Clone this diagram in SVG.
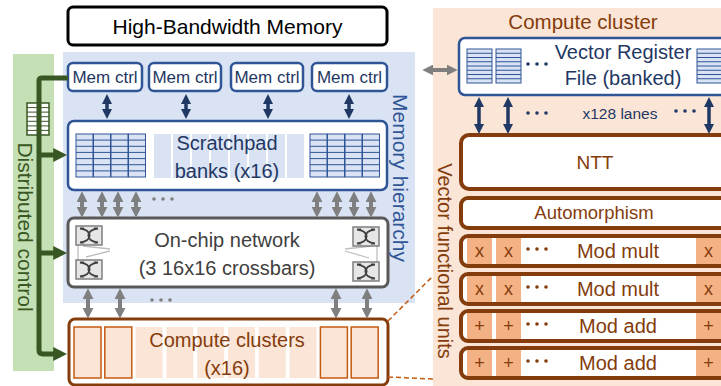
<svg xmlns="http://www.w3.org/2000/svg" xmlns:xlink="http://www.w3.org/1999/xlink" width="721" height="386" viewBox="0 0 721 386">
<style>
text{font-family:"Liberation Sans",Arial,sans-serif;}
.navy{fill:#1f3864;}
.brown{fill:#843c0c;}
.mc{fill:#fff;stroke:#2f5597;stroke-width:2.5;}
.fu{fill:#fff;stroke:#843c0c;stroke-width:4;}
.sq{fill:#f4b183;}
.arN{stroke:#1f3864;stroke-width:3.5;fill:none;}
.arG{stroke:#7f7f7f;stroke-width:4;fill:none;}
.grn{stroke:#385723;stroke-width:5;fill:none;}
</style>
<defs>
<marker id="mN" viewBox="0 0 10 10" refX="3" refY="5" markerWidth="10" markerHeight="10" markerUnits="userSpaceOnUse" orient="auto-start-reverse"><path d="M0,0 L10,5 L0,10 z" fill="#1f3864"/></marker>
<marker id="mG" viewBox="0 0 10 10" refX="3" refY="5" markerWidth="11" markerHeight="11" markerUnits="userSpaceOnUse" orient="auto-start-reverse"><path d="M0,0 L10,5 L0,10 z" fill="#7f7f7f"/></marker>
<marker id="mGr" viewBox="0 0 10 10" refX="2" refY="5" markerWidth="14" markerHeight="14" markerUnits="userSpaceOnUse" orient="auto"><path d="M0,0 L10,5 L0,10 z" fill="#385723"/></marker>
<g id="bank">
<rect x="0" y="0" width="17" height="43" fill="#dae3f3" stroke="#2f5597" stroke-width="1"/>
<path d="M0,6.1H17M0,12.3H17M0,18.4H17M0,24.6H17M0,30.7H17M0,36.9H17" stroke="#2f5597" stroke-width="1"/>
</g>
<g id="vrfbank">
<rect x="0" y="0" width="25" height="34" fill="#dae3f3" stroke="#2f5597" stroke-width="1"/>
<path d="M0,4.25H25M0,8.5H25M0,12.75H25M0,17H25M0,21.25H25M0,25.5H25M0,29.75H25" stroke="#2f5597" stroke-width="1"/>
</g>
<g id="xbar">
<rect x="0" y="0" width="26" height="19" fill="#e7e6e6" stroke="#7f7f7f" stroke-width="1.5"/>
<path d="M4,2.5 C16.7,4 16.7,15 4,16.5 M22,2.5 C9.3,4 9.3,15 22,16.5 M4,2.5H8M18,2.5H22M4,16.5H8M18,16.5H22" stroke="#404040" stroke-width="2" fill="none"/>
</g>
<g id="dots"><circle cx="0" cy="0" r="1.8"/><circle cx="9" cy="0" r="1.8"/><circle cx="18" cy="0" r="1.8"/></g>
</defs>

<rect x="63" y="52" width="352" height="251" fill="#dae3f3"/>
<rect x="13" y="54" width="41" height="317" fill="#c5e0b4"/>
<rect x="433" y="8" width="300" height="378" fill="#fbe5d6"/>

<g id="hbm">
<rect x="68" y="7" width="319" height="38" rx="5" fill="#fff" stroke="#000" stroke-width="3"/>
<text x="227.5" y="33.5" font-size="21" text-anchor="middle" fill="#000">High-Bandwidth Memory</text>
</g>

<g id="memctrl1"><rect class="mc" x="68" y="63" width="74" height="28" rx="5"/><text class="navy" x="105" y="83" font-size="17" text-anchor="middle">Mem ctrl</text></g>
<g id="memctrl2"><rect class="mc" x="149" y="63" width="72" height="28" rx="5"/><text class="navy" x="185" y="83" font-size="17" text-anchor="middle">Mem ctrl</text></g>
<g id="memctrl3"><rect class="mc" x="231" y="63" width="72" height="28" rx="5"/><text class="navy" x="267" y="83" font-size="17" text-anchor="middle">Mem ctrl</text></g>
<g id="memctrl4"><rect class="mc" x="312" y="63" width="75" height="28" rx="5"/><text class="navy" x="349.5" y="83" font-size="17" text-anchor="middle">Mem ctrl</text></g>

<g id="scratchpad">
<rect class="mc" x="68" y="121" width="319" height="69" rx="6"/>
<use xlink:href="#bank" x="76" y="134"/><use xlink:href="#bank" x="93.5" y="134"/><use xlink:href="#bank" x="111" y="134"/><use xlink:href="#bank" x="128.5" y="134"/>
<g fill="#dae3f3">
<rect x="154" y="134" width="17" height="44"/><rect x="173" y="134" width="17" height="44"/><rect x="192" y="134" width="17" height="44"/><rect x="211" y="134" width="17" height="44"/>
<rect x="230" y="134" width="17" height="44"/><rect x="249" y="134" width="17" height="44"/><rect x="268" y="134" width="17" height="44"/><rect x="287" y="134" width="17" height="44"/>
</g>
<use xlink:href="#bank" x="310" y="134"/><use xlink:href="#bank" x="327.5" y="134"/><use xlink:href="#bank" x="345" y="134"/><use xlink:href="#bank" x="362.5" y="134"/>
<text class="navy" x="227" y="150" font-size="20" text-anchor="middle">Scratchpad</text>
<text class="navy" x="227" y="178" font-size="20" text-anchor="middle">banks (x16)</text>
</g>

<g id="network">
<rect x="68" y="218" width="320" height="69" rx="6" fill="#fff" stroke="#595959" stroke-width="3"/>
<g stroke="#bfbfbf" stroke-width="1.3" fill="none">
<path d="M78,245V260M83,246L110,249M86,257L110,251"/>
<path d="M377,245V262M372,246L345,249M369,258L345,251"/>
</g>
<use xlink:href="#xbar" x="76" y="226"/><use xlink:href="#xbar" x="76" y="260"/>
<use xlink:href="#xbar" x="353" y="227"/><use xlink:href="#xbar" x="353" y="262"/>
<text x="227" y="247" font-size="20" text-anchor="middle" fill="#404040">On-chip network</text>
<text x="227" y="275" font-size="20" text-anchor="middle" fill="#404040">(3 16x16 crossbars)</text>
</g>

<g id="clusters">
<rect x="69" y="319" width="319" height="66" rx="6" fill="#fff" stroke="#843c0c" stroke-width="3"/>
<g fill="#fbe5d6" stroke="#c55a11" stroke-width="1.5">
<rect x="74" y="327" width="27" height="51"/><rect x="104.8" y="327" width="27" height="51"/>
<rect x="320.4" y="327" width="27" height="51"/><rect x="351.2" y="327" width="27" height="51"/>
</g>
<g fill="#fbe5d6">
<rect x="135.6" y="327" width="27" height="51"/><rect x="166.4" y="327" width="27" height="51"/><rect x="197.2" y="327" width="27" height="51"/>
<rect x="228" y="327" width="27" height="51"/><rect x="258.8" y="327" width="27" height="51"/><rect x="289.6" y="327" width="27" height="51"/>
</g>
<text class="brown" x="227" y="347" font-size="20" text-anchor="middle">Compute clusters</text>
<text class="brown" x="227" y="375" font-size="20" text-anchor="middle">(x16)</text>
</g>

<g id="labels">
<text transform="translate(400,178) rotate(90)" dy="0.35em" font-size="21" text-anchor="middle" fill="#2f5597">Memory hierarchy</text>
<text transform="translate(25,227) rotate(90)" dy="0.35em" font-size="21" text-anchor="middle" fill="#385723">Distributed control</text>
<text transform="translate(445,261) rotate(90)" dy="0.35em" font-size="20" text-anchor="middle" fill="#843c0c">Vector functional units</text>
<text class="brown" x="583" y="29" font-size="20.5" text-anchor="middle">Compute cluster</text>
</g>

<g id="queue">
<rect x="27" y="103" width="22" height="32" fill="#fff" stroke="#385723" stroke-width="1.5"/>
<path d="M27,107.6H49M27,112.1H49M27,116.7H49M27,121.3H49M27,125.9H49M27,130.4H49" stroke="#385723" stroke-width="1"/>
</g>

<g id="vrf">
<rect class="mc" x="459" y="38" width="290" height="57" rx="6"/>
<use xlink:href="#vrfbank" x="467" y="49"/><use xlink:href="#vrfbank" x="496" y="49"/><use xlink:href="#vrfbank" x="697" y="49"/>
<use xlink:href="#dots" x="528" y="64" class="navy"/>
<text class="navy" x="623" y="59" font-size="20" text-anchor="middle">Vector Register</text>
<text class="navy" x="623" y="85" font-size="20" text-anchor="middle">File (banked)</text>
</g>
<g id="lanes">
<use xlink:href="#dots" x="528" y="113" class="navy"/>
<use xlink:href="#dots" x="676" y="111" class="navy"/>
<text class="navy" x="620" y="119" font-size="15.5" text-anchor="middle">x128 lanes</text>
</g>

<g id="ntt"><rect class="fu" x="461" y="135" width="300" height="54" rx="8"/><text class="brown" x="595" y="169" font-size="19" text-anchor="middle">NTT</text></g>
<g id="automorphism"><rect class="fu" x="461" y="198" width="300" height="30" rx="7"/><text class="brown" x="594" y="219" font-size="18.5" text-anchor="middle">Automorphism</text></g>
<g id="modmult1"><rect class="fu" x="461" y="236" width="300" height="30" rx="7"/>
<rect class="sq" x="467" y="238" width="25" height="26"/><rect class="sq" x="496" y="238" width="25" height="26"/><rect class="sq" x="696" y="238" width="25" height="26"/>
<g class="brown" font-size="18" text-anchor="middle"><text x="479.5" y="257">x</text><text x="508.5" y="257">x</text><text x="708.5" y="257">x</text></g>
<use xlink:href="#dots" x="528" y="249" class="brown"/>
<text class="brown" x="618" y="258" font-size="20" text-anchor="middle">Mod mult</text></g>
<g id="modmult2"><rect class="fu" x="461" y="274" width="300" height="30" rx="7"/>
<rect class="sq" x="467" y="276" width="25" height="26"/><rect class="sq" x="496" y="276" width="25" height="26"/><rect class="sq" x="696" y="276" width="25" height="26"/>
<g class="brown" font-size="18" text-anchor="middle"><text x="479.5" y="295">x</text><text x="508.5" y="295">x</text><text x="708.5" y="295">x</text></g>
<use xlink:href="#dots" x="528" y="287" class="brown"/>
<text class="brown" x="618" y="296" font-size="20" text-anchor="middle">Mod mult</text></g>
<g id="modadd1"><rect class="fu" x="461" y="311" width="300" height="30" rx="7"/>
<rect class="sq" x="467" y="313" width="25" height="26"/><rect class="sq" x="496" y="313" width="25" height="26"/><rect class="sq" x="696" y="313" width="25" height="26"/>
<g class="brown" font-size="18" text-anchor="middle"><text x="479.5" y="332">+</text><text x="508.5" y="332">+</text><text x="708.5" y="332">+</text></g>
<use xlink:href="#dots" x="528" y="324" class="brown"/>
<text class="brown" x="618" y="333" font-size="20" text-anchor="middle">Mod add</text></g>
<g id="modadd2"><rect class="fu" x="461" y="348" width="300" height="30" rx="7"/>
<rect class="sq" x="467" y="350" width="25" height="26"/><rect class="sq" x="496" y="350" width="25" height="26"/><rect class="sq" x="696" y="350" width="25" height="26"/>
<g class="brown" font-size="18" text-anchor="middle"><text x="479.5" y="369">+</text><text x="508.5" y="369">+</text><text x="708.5" y="369">+</text></g>
<use xlink:href="#dots" x="528" y="361" class="brown"/>
<text class="brown" x="618" y="370" font-size="20" text-anchor="middle">Mod add</text></g>

<g id="connectors">
<g class="arN" marker-start="url(#mN)" marker-end="url(#mN)">
<line x1="107" y1="101" x2="107" y2="112"/><line x1="186" y1="101" x2="186" y2="112"/>
<line x1="268" y1="101" x2="268" y2="112"/><line x1="349" y1="101" x2="349" y2="112"/>
</g>
<g class="arG" marker-start="url(#mG)" marker-end="url(#mG)">
<line x1="82" y1="199" x2="82" y2="210"/><line x1="102" y1="199" x2="102" y2="210"/>
<line x1="118" y1="199" x2="118" y2="210"/><line x1="136" y1="199" x2="136" y2="210"/>
<line x1="317" y1="199" x2="317" y2="210"/><line x1="337" y1="199" x2="337" y2="210"/>
<line x1="354" y1="199" x2="354" y2="210"/><line x1="371" y1="199" x2="371" y2="210"/>
<line x1="88" y1="296" x2="88" y2="311"/><line x1="120" y1="296" x2="120" y2="311"/>
<line x1="336" y1="296" x2="336" y2="311"/><line x1="367" y1="296" x2="367" y2="311"/>
<line x1="430" y1="70" x2="450" y2="70"/>
</g>
<g fill="#7f7f7f"><use xlink:href="#dots" x="154" y="199"/><use xlink:href="#dots" x="152" y="300"/></g>
<g class="arN" marker-start="url(#mN)" marker-end="url(#mN)">
<line x1="479" y1="104" x2="479" y2="127"/><line x1="508" y1="104" x2="508" y2="127"/><line x1="709" y1="104" x2="709" y2="127"/>
</g>
<path class="grn" d="M68,78 H42 Q39,78 39,81 V350 Q39,354 43,354 H56" marker-end="url(#mGr)"/>
<line class="grn" x1="39" y1="155" x2="56" y2="155" marker-end="url(#mGr)"/>
<line class="grn" x1="39" y1="253" x2="56" y2="253" marker-end="url(#mGr)"/>
<g stroke="#c55a11" stroke-width="1.5" stroke-dasharray="5,3" fill="none">
<line x1="388" y1="321" x2="433" y2="276"/>
<line x1="388" y1="377" x2="433" y2="379"/>
</g>
</g>
</svg>
